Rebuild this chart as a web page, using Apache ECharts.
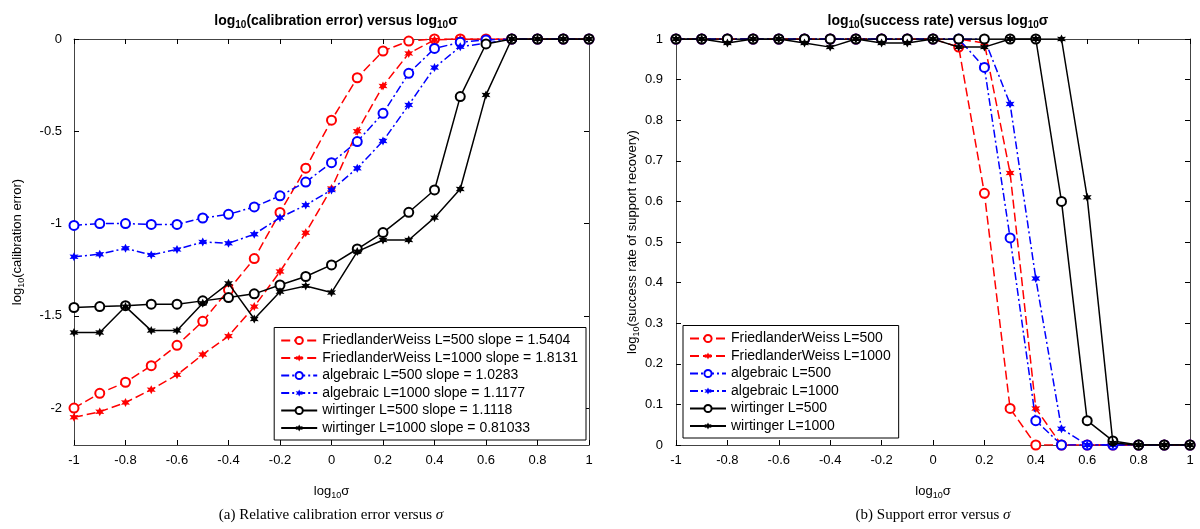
<!DOCTYPE html>
<html>
<head>
<meta charset="utf-8">
<script src="https://cdn.jsdelivr.net/npm/echarts@6/dist/echarts.min.js"></script>
<style>
  html, body { margin: 0; padding: 0; background: #fff; }
  #main { width: 1200px; height: 529px; }
</style>
</head>
<body>
<div id="main"></div>
<script>
// log10 sigma grid, shared by both panels
var sigma = [-1, -0.9, -0.8, -0.7, -0.6, -0.5, -0.4, -0.3, -0.2, -0.1, 0, 0.1, 0.2, 0.3, 0.4, 0.5, 0.6, 0.7, 0.8, 0.9, 1];

// (a) log10 calibration error
var fw500Err    = [-2.00, -1.92, -1.86, -1.77, -1.66, -1.53, -1.36, -1.19, -0.94, -0.70, -0.44, -0.21, -0.065, -0.011, 0, 0, 0, 0, 0, 0, 0];
var fw1000Err   = [-2.05, -2.02, -1.97, -1.90, -1.82, -1.71, -1.61, -1.45, -1.26, -1.05, -0.81, -0.50, -0.255, -0.078, -0.005, 0, 0, 0, 0, 0, 0];
var alg500Err   = [-1.01, -1.00, -1.00, -1.005, -1.005, -0.97, -0.95, -0.91, -0.85, -0.775, -0.67, -0.556, -0.403, -0.186, -0.051, -0.018, -0.005, 0, 0, 0, 0];
var alg1000Err  = [-1.18, -1.166, -1.134, -1.17, -1.14, -1.10, -1.107, -1.058, -0.968, -0.90, -0.818, -0.70, -0.553, -0.357, -0.155, -0.042, -0.023, 0, 0, 0, 0];
var wirt500Err  = [-1.455, -1.45, -1.445, -1.437, -1.437, -1.419, -1.401, -1.381, -1.333, -1.287, -1.224, -1.138, -1.049, -0.939, -0.818, -0.312, -0.027, 0, 0, 0, 0];
var wirt1000Err = [-1.59, -1.59, -1.45, -1.58, -1.58, -1.432, -1.324, -1.517, -1.369, -1.338, -1.374, -1.152, -1.089, -1.089, -0.968, -0.813, -0.303, 0, 0, 0, 0];

// (b) success rate of support recovery
var fw500Rate    = [1, 1, 1, 1, 1, 1, 1, 1, 1, 1, 1, 0.98, 0.62, 0.09, 0, 0, 0, 0, 0, 0, 0];
var fw1000Rate   = [1, 1, 1, 1, 1, 1, 1, 1, 1, 1, 1, 1, 0.99, 0.67, 0.09, 0, 0, 0, 0, 0, 0];
var alg500Rate   = [1, 1, 1, 1, 1, 1, 1, 1, 1, 1, 1, 1, 0.93, 0.51, 0.06, 0, 0, 0, 0, 0, 0];
var alg1000Rate  = [1, 1, 1, 1, 1, 1, 1, 1, 1, 1, 1, 1, 1, 0.84, 0.41, 0.04, 0, 0, 0, 0, 0];
var wirt500Rate  = [1, 1, 1, 1, 1, 1, 1, 1, 1, 1, 1, 1, 1, 1, 1, 0.60, 0.06, 0.01, 0, 0, 0];
var wirt1000Rate = [1, 1, 0.99, 1, 1, 0.99, 0.98, 1, 0.99, 0.99, 1, 0.98, 0.98, 1, 1, 1, 0.61, 0.005, 0, 0, 0];

var errNames = ['FriedlanderWeiss L=500 slope = 1.5404', 'FriedlanderWeiss L=1000 slope = 1.8131',
  'algebraic L=500 slope = 1.0283', 'algebraic L=1000 slope = 1.1177',
  'wirtinger L=500 slope = 1.1118', 'wirtinger L=1000 slope = 0.81033'];
var rateNames = ['FriedlanderWeiss L=500', 'FriedlanderWeiss L=1000', 'algebraic L=500',
  'algebraic L=1000', 'wirtinger L=500', 'wirtinger L=1000'];

var errTicks = [-2, -1.5, -1, -0.5, 0];

var FONT = 'Liberation Sans';
var AXC = '#444';

// little filled asterisk-ish star like matlab '*'
function starPath() {
  var pts = [];
  for (var i = 0; i < 12; i++) {
    var r = i % 2 === 0 ? 10 : 5;
    var a = Math.PI / 2 + i * Math.PI / 6;
    pts.push((10 + r * Math.cos(a)).toFixed(2) + ',' + (10 - r * Math.sin(a)).toFixed(2));
  }
  return 'path://M' + pts.join('L') + 'Z';
}
var STAR = starPath();

var styles = [
  { color: '#ff0000', dash: [9, 4], star: false },
  { color: '#ff0000', dash: [9, 4], star: true },
  { color: '#0000ff', dash: [8, 3, 2, 3], star: false },
  { color: '#0000ff', dash: [8, 3, 2, 3], star: true },
  { color: '#000000', dash: 'solid', star: false },
  { color: '#000000', dash: 'solid', star: true }
];

function mk(name, ys, k, gi) {
  var s = styles[k];
  return {
    name: name,
    type: 'line',
    xAxisIndex: gi,
    yAxisIndex: gi,
    data: sigma.map(function (x, i) { return [x, ys[i]]; }),
    symbol: s.star ? STAR : 'emptyCircle',
    symbolSize: s.star ? 9 : 9,
    showAllSymbol: true,
    color: s.color,
    lineStyle: { color: s.color, width: 1.5, type: s.dash },
    itemStyle: { color: s.color, borderWidth: s.star ? 0 : 1.5 },
    emphasis: { disabled: true },
    animation: false,
    z: 2 + k
  };
}

var sub = {
  n: { fontFamily: FONT, fontSize: 13, color: '#000', lineHeight: 18 },
  s: { fontFamily: FONT, fontSize: 9, color: '#000', lineHeight: 12, verticalAlign: 'bottom', padding: [5, 0, 0, 0] }
};
var subBold = {
  n: { fontFamily: FONT, fontSize: 14, fontWeight: 'bold', color: '#000', lineHeight: 18 },
  s: { fontFamily: FONT, fontSize: 10, fontWeight: 'bold', color: '#000', lineHeight: 12, verticalAlign: 'bottom', padding: [5, 0, 0, 0] }
};

function baseX(gi, top) {
  return {
    type: 'value', gridIndex: gi, min: -1, max: 1, interval: 0.2,
    position: top ? 'top' : 'bottom',
    axisLine: { show: true, onZero: false, lineStyle: { color: AXC, width: 1 } },
    axisTick: { show: true, inside: true, length: 5, lineStyle: { color: '#000' } },
    axisLabel: { show: !top, margin: 9, fontFamily: FONT, fontSize: 13, color: '#000' },
    splitLine: { show: false },
    name: top ? '' : '{n|log}{s|10}{n|σ}',
    nameLocation: 'middle', nameGap: 37,
    nameTextStyle: { rich: sub }
  };
}

function legendBox(names, pos) {
  var l = {
    data: names, orient: 'vertical', bottom: 89,
    itemWidth: 36, itemHeight: 9, itemGap: 3.5, padding: [6, 8, 5, 6],
    borderColor: '#000', borderWidth: 1, backgroundColor: '#fff', borderRadius: 0,
    textStyle: { fontFamily: FONT, fontSize: 14, color: '#000' },
    selectedMode: false
  };
  for (var k in pos) l[k] = pos[k];
  return l;
}

var option = {
  backgroundColor: '#fff',
  animation: false,
  title: [
    { text: '{n|log}{s|10}{n|(calibration error) versus log}{s|10}{n|σ}', left: 331, top: 7, textAlign: 'center',
      textStyle: { rich: subBold } },
    { text: '{n|log}{s|10}{n|(success rate) versus log}{s|10}{n|σ}', left: 933, top: 7, textAlign: 'center',
      textStyle: { rich: subBold } }
  ],
  grid: [
    { left: 74, top: 39, width: 515, height: 406 },
    { left: 676, top: 39, width: 514, height: 406 }
  ],
  legend: [
    legendBox(errNames, { right: 614 }),
    legendBox(rateNames, { left: 683, bottom: 91 })
  ],
  xAxis: [baseX(0, false), baseX(1, false), baseX(0, true), baseX(1, true)],
  yAxis: [
    {
      type: 'value', gridIndex: 0, min: -2.2, max: 0,
      axisLine: { show: true, onZero: false, lineStyle: { color: AXC } },
      axisTick: { show: true, inside: true, length: 5, customValues: errTicks, lineStyle: { color: '#000' } },
      axisLabel: { margin: 12, customValues: errTicks, fontFamily: FONT, fontSize: 13, color: '#000' },
      splitLine: { show: false },
      name: '{n|log}{s|10}{n|(calibration error)}', nameLocation: 'middle', nameRotate: 90, nameGap: 48,
      nameTextStyle: { rich: sub }
    },
    {
      type: 'value', gridIndex: 1, min: 0, max: 1, interval: 0.1,
      axisLine: { show: true, onZero: false, lineStyle: { color: AXC } },
      axisTick: { show: true, inside: true, length: 5, lineStyle: { color: '#000' } },
      axisLabel: { margin: 13, fontFamily: FONT, fontSize: 13, color: '#000' },
      splitLine: { show: false },
      name: '{n|log}{s|10}{n|(success rate of support recovery)}', nameLocation: 'middle', nameRotate: 90, nameGap: 34,
      nameTextStyle: { rich: sub }
    },
    {
      type: 'value', gridIndex: 0, min: -2.2, max: 0, position: 'right',
      axisLine: { show: true, onZero: false, lineStyle: { color: AXC } },
      axisTick: { show: true, inside: true, length: 5, customValues: errTicks, lineStyle: { color: '#000' } },
      axisLabel: { show: false, customValues: errTicks },
      splitLine: { show: false }
    },
    {
      type: 'value', gridIndex: 1, min: 0, max: 1, interval: 0.1, position: 'right',
      axisLine: { show: true, onZero: false, lineStyle: { color: AXC } },
      axisTick: { show: true, inside: true, length: 5, lineStyle: { color: '#000' } },
      axisLabel: { show: false },
      splitLine: { show: false }
    }
  ],
  graphic: [
    { type: 'text', x: 331, y: 515, style: { text: '{n|(a) Relative calibration error versus }{i|σ}', align: 'center', verticalAlign: 'middle',
        rich: { n: { fontFamily: 'Liberation Serif', fontSize: 15, fill: '#000' }, i: { fontFamily: 'Liberation Serif', fontSize: 15, fontStyle: 'italic', fill: '#000' } } } },
    { type: 'text', x: 933, y: 515, style: { text: '{n|(b) Support error versus }{i|σ}', align: 'center', verticalAlign: 'middle',
        rich: { n: { fontFamily: 'Liberation Serif', fontSize: 15, fill: '#000' }, i: { fontFamily: 'Liberation Serif', fontSize: 15, fontStyle: 'italic', fill: '#000' } } } }
  ],
  series: [
    mk(errNames[0], fw500Err, 0, 0),
    mk(errNames[1], fw1000Err, 1, 0),
    mk(errNames[2], alg500Err, 2, 0),
    mk(errNames[3], alg1000Err, 3, 0),
    mk(errNames[4], wirt500Err, 4, 0),
    mk(errNames[5], wirt1000Err, 5, 0),
    mk(rateNames[0], fw500Rate, 0, 1),
    mk(rateNames[1], fw1000Rate, 1, 1),
    mk(rateNames[2], alg500Rate, 2, 1),
    mk(rateNames[3], alg1000Rate, 3, 1),
    mk(rateNames[4], wirt500Rate, 4, 1),
    mk(rateNames[5], wirt1000Rate, 5, 1)
  ]
};

var chart = echarts.init(document.getElementById('main'), null, { renderer: 'canvas' });
chart.setOption(option);
</script>
</body>
</html>
